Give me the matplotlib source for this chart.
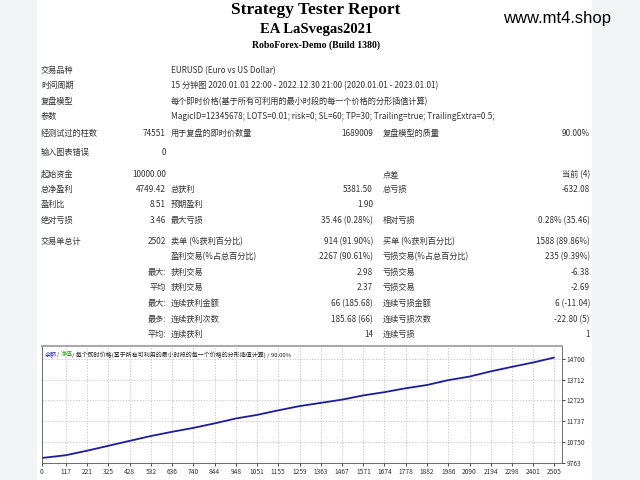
import matplotlib
matplotlib.use("Agg")
import matplotlib.pyplot as plt
from matplotlib.patches import Rectangle

plt.rcParams['font.family'] = ['Noto Sans CJK SC', 'DejaVu Sans']

# equity curve
trade_ticks = [0, 117, 221, 325, 428, 532, 636, 740, 844, 948, 1051, 1155, 1259,
               1363, 1467, 1571, 1674, 1778, 1882, 1986, 2090, 2194, 2298, 2401, 2502]
balance = [10000, 10132, 10347, 10578, 10809, 11040, 11240, 11424, 11639, 11870,
           12039, 12255, 12455, 12608, 12762, 12962, 13116, 13300, 13454, 13685,
           13854, 14100, 14315, 14520, 14749]
xtick_labels = [0, 117, 221, 325, 428, 532, 636, 740, 844, 948, 1051, 1155, 1259,
                1363, 1467, 1571, 1674, 1778, 1882, 1986, 2090, 2194, 2298, 2401, 2505]
ytick_labels = [9763, 10750, 11737, 12725, 13712, 14700]

header_rows = [
    (70, "交易品种", "EURUSD (Euro vs US Dollar)"),
    (85, "时间周期", "15 分钟图 2020.01.01 22:00 - 2022.12.30 21:00 (2020.01.01 - 2023.01.01)"),
    (101, "复盘模型", "每个即时价格(基于所有可利用的最小时段的每一个价格的分形插值计算)"),
    (116, "参数", "MagicID=12345678; LOTS=0.01; risk=0; SL=60; TP=30; Trailing=true; TrailingExtra=0.5;"),
]
stat_rows = [
    (133, "经测试过的柱数", "74551", "用于复盘的即时价数量", "1689009", "复盘模型的质量", "90.00%"),
    (152, "输入图表错误", "0", "", "", "", ""),
    (174, "起始资金", "10000.00", "", "", "点差", "当前 (4)"),
    (189, "总净盈利", "4749.42", "总获利", "5381.50", "总亏损", "-632.08"),
    (204, "盈利比", "8.51", "预期盈利", "1.90", "", ""),
    (220, "绝对亏损", "3.46", "最大亏损", "35.46 (0.28%)", "相对亏损", "0.28% (35.46)"),
    (241, "交易单总计", "2502", "卖单 (%获利百分比)", "914 (91.90%)", "买单 (%获利百分比)", "1588 (89.86%)"),
    (256, "", "", "盈利交易(%占总百分比)", "2267 (90.61%)", "亏损交易(%占总百分比)", "235 (9.39%)"),
    (272, "", "最大:", "获利交易", "2.98", "亏损交易", "-6.38"),
    (287, "", "平均", "获利交易", "2.37", "亏损交易", "-2.69"),
    (303, "", "最大:", "连续获利金额", "66 (185.68)", "连续亏损金额", "6 (-11.04)"),
    (319, "", "最多:", "连续获利次数", "185.68 (66)", "连续亏损次数", "-22.80 (5)"),
    (334, "", "平均:", "连续获利", "14", "连续亏损", "1"),
]

W, H = 640, 480
fig = plt.figure(figsize=(6.4, 4.8), dpi=100, facecolor="white")


def px(x, y):
    return x / W, 1 - y / H


bg = fig.add_axes([0, 0, 1, 1], zorder=-1)
bg.set_axis_off()
bg.set_xlim(0, W)
bg.set_ylim(H, 0)
bg.add_patch(Rectangle((0, 0), 36, H, color="#f3f4f6"))
bg.add_patch(Rectangle((592, 0), 48, H, color="#f3f4f6"))

fig.text(*px(316, 10), "Strategy Tester Report", ha="center", va="center",
         fontsize=12.5, fontweight="bold", family="Liberation Serif")
fig.text(*px(316, 30), "EA LaSvegas2021", ha="center", va="center",
         fontsize=10.5, fontweight="bold", family="Liberation Serif")
fig.text(*px(316, 45), "RoboForex-Demo (Build 1380)", ha="center", va="center",
         fontsize=7, fontweight="bold", family="Liberation Serif")
fig.text(*px(557, 19), "www.mt4.shop", ha="center", va="center",
         fontsize=12, family="Liberation Sans")

fs = 5.9
tc = "#333333"
kw = dict(va="baseline", fontsize=fs, color=tc)
for y, lab, val in header_rows:
    yb = y + 3
    fig.text(*px(41, yb), lab, **kw)
    fig.text(*px(171, yb), val, **kw)

for y, l1, v1, l2, v2, l3, v3 in stat_rows:
    yb = y + 3
    fig.text(*px(41, yb), l1, **kw)
    fig.text(*px(166, yb), v1, ha="right", **kw)
    fig.text(*px(171, yb), l2, **kw)
    fig.text(*px(373, yb), v2, ha="right", **kw)
    fig.text(*px(383, yb), l3, **kw)
    fig.text(*px(590, yb), v3, ha="right", **kw)

# equity chart
l, r, t, b = 42, 562, 346, 463
ax = fig.add_axes([l / W, 1 - b / H, (r - l) / W, (b - t) / H])
ax.plot(trade_ticks, balance, color="#1c1ca0", lw=1.3)
ax.set_xlim(0, 2542)
ax.set_ylim(9763, 15300)
ax.set_xticks(xtick_labels)
ax.set_xticklabels([str(v) for v in xtick_labels], fontsize=4.8, color=tc)
ax.set_yticks(ytick_labels)
ax.set_yticklabels([str(v) for v in ytick_labels], fontsize=4.8, color=tc)
ax.yaxis.tick_right()
ax.tick_params(length=2, pad=1.5, width=0.5)
ax.grid(True, color="#bbbbbb", ls=(0, (2, 2)), lw=0.5)
for s in ax.spines.values():
    s.set_linewidth(0.6)
    s.set_color("#555555")
ax.spines["top"].set_color("#aaaaaa")
ax.spines["top"].set_linewidth(1.5)
ax.text(0.005, 0.95, "余额", color="#2222aa", fontsize=4.3, transform=ax.transAxes, va="top")
ax.text(0.028, 0.95, "/", color="#333333", fontsize=4.3, transform=ax.transAxes, va="top")
ax.text(0.036, 0.95, "净值", color="#22aa22", fontsize=4.3, transform=ax.transAxes, va="top")
ax.text(0.058, 0.95, "/ 每个即时价格(基于所有可利用的最小时段的每一个价格的分形插值计算) / 90.00%",
        color="#222222", fontsize=4.3, transform=ax.transAxes, va="top")

fig.savefig("out.png", dpi=100)
